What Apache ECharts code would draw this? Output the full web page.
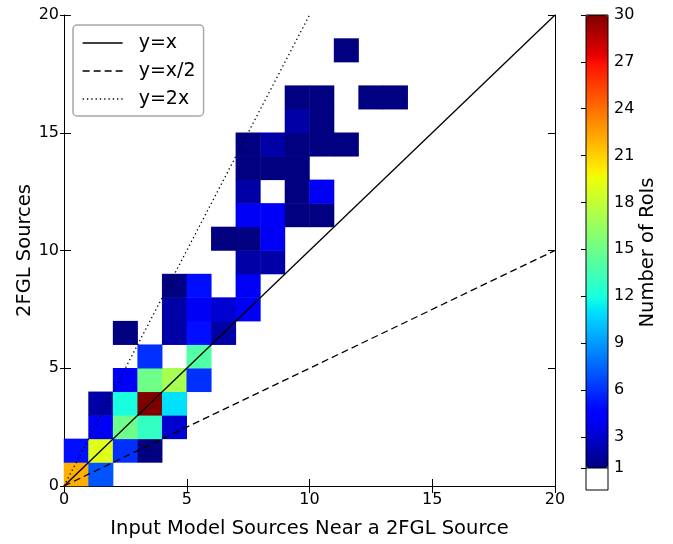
<!DOCTYPE html>
<html>
<head>
<meta charset="utf-8">
<script src="https://cdn.jsdelivr.net/npm/echarts@6/dist/echarts.min.js"></script>
<style>html,body{margin:0;padding:0;background:#fff}#c{width:673px;height:544px}</style>
</head>
<body>
<div id="c"></div>
<script>
// ---- data (bin indices: x = input model sources, y = 2FGL sources) ----
const binX   = [0,1, 0,1,2,3, 1,2,3,4, 1,2,3,4, 2,3,4,5, 3,5, 2,4,5,6, 4,5,6,7, 4,5,7, 7,8, 6,7,8, 7,8,9,10, 7,9,10, 7,8,9, 7,8,9,10,11, 9,10, 9,10,12,13, 11];
const binY   = [0,0, 1,1,1,1, 2,2,2,2, 3,3,3,3, 4,4,4,4, 5,5, 6,6,6,6, 7,7,7,7, 8,8,8, 9,9, 10,10,10, 11,11,11,11, 12,12,12, 13,13,13, 14,14,14,14,14, 15,15, 16,16,16,16, 18];
const counts = [22,7, 5,19,6,1, 4,15,13,3, 2,12,30,11, 4,15,17,6, 6,14, 1,2,5,2, 2,4,3,4, 1,5,4, 2,2, 1,1,4, 4,4,1,1, 2,1,4, 1,1,1, 1,2,1,1,1, 2,1, 1,1,1,1, 1];
const binCategories = ['0','1','2','3','4','5','6','7','8','9','10','11','12','13','14','15','16','17','18','19'];
const axisTicks = [0, 5, 10, 15, 20];
const colorbarTicks = [1, 3, 6, 9, 12, 15, 18, 21, 24, 27, 30];
const guideX = [0, 20];
const guideNames = ['y=x', 'y=x/2', 'y=2x'];
const guideSlopes = [1, 0.5, 2];

// jet colormap
function jet(t) {
  const seg = (p) => {
    for (let i = 1; i < p.length; i++) {
      if (t <= p[i][0]) {
        const f = (t - p[i-1][0]) / (p[i][0] - p[i-1][0]);
        return p[i-1][1] + f * (p[i][1] - p[i-1][1]);
      }
    }
    return p[p.length-1][1];
  };
  const r = seg([[0,0],[0.35,0],[0.66,1],[0.89,1],[1,0.5]]);
  const g = seg([[0,0],[0.125,0],[0.375,1],[0.64,1],[0.91,0],[1,0]]);
  const b = seg([[0,0.5],[0.11,1],[0.34,1],[0.65,0],[1,0]]);
  const h = (v) => Math.round(Math.max(0, Math.min(1, v)) * 255).toString(16).padStart(2, '0');
  return '#' + h(r) + h(g) + h(b);
}
const jetColors = [];
for (let i = 0; i <= 100; i++) jetColors.push(jet(i / 100));

const heatData = counts.map((v, i) => [binX[i], binY[i], v]);

const FONT = 'DejaVu Sans';
const chart = echarts.init(document.getElementById('c'), null, {renderer: 'canvas'});

const G = {left: 64, top: 15, width: 491, height: 474};
const CB = {left: 586, top: 15, width: 22, height: 475, colored: 453};
const cbMin = 1 - (CB.height - CB.colored) / (CB.colored / 29);

const lineStyles = [
  {type: 'solid', width: 1.3, color: '#000'},
  {type: [7, 4], width: 1.3, color: '#000'},
  {type: [1.3, 3], width: 1.3, color: '#000'}
];

const guideSeries = guideNames.map((n, k) => ({
  name: n,
  type: 'line',
  xAxisIndex: 1,
  yAxisIndex: 1,
  data: guideX.map(x => [x, x * guideSlopes[k]]),
  symbol: 'none',
  silent: true,
  clip: true,
  lineStyle: lineStyles[k],
  itemStyle: {color: '#000'},
  z: 5
}));

chart.setOption({
  animation: false,
  textStyle: {fontFamily: FONT, color: '#000'},
  grid: [
    {left: G.left, top: G.top, width: G.width, height: G.height, show: false},
    {left: CB.left, top: CB.top, width: CB.width, height: CB.height, show: false}
  ],
  xAxis: [
    {type: 'category', data: binCategories, gridIndex: 0, show: false, position: 'top'},
    {type: 'value', gridIndex: 0, min: axisTicks[0], max: axisTicks[axisTicks.length-1], interval: 5, position: 'bottom',
     axisLine: {show: true, lineStyle: {color: '#000', width: 1}},
     axisTick: {show: true, inside: true, length: 7, lineStyle: {color: '#000'}},
     axisLabel: {fontSize: 16, color: '#000', margin: 6, fontFamily: FONT},
     splitLine: {show: false},
     name: 'Input Model Sources Near a 2FGL Source', nameLocation: 'middle', nameGap: 33, nameMoveOverlap: false,
     nameTextStyle: {fontSize: 19.5, color: '#000', fontFamily: FONT}},
    {type: 'value', gridIndex: 0, min: 0, max: 20, interval: 5, position: 'top',
     axisLine: {show: true, lineStyle: {color: '#000', width: 1}},
     axisTick: {show: true, inside: true, length: 7, lineStyle: {color: '#000'}},
     axisLabel: {show: false}, splitLine: {show: false}},
    {type: 'value', gridIndex: 1, min: 0, max: 1, show: false}
  ],
  yAxis: [
    {type: 'category', data: binCategories, gridIndex: 0, show: false, position: 'right'},
    {type: 'value', gridIndex: 0, min: axisTicks[0], max: axisTicks[axisTicks.length-1], interval: 5, position: 'left',
     axisLine: {show: true, lineStyle: {color: '#000', width: 1}},
     axisTick: {show: true, inside: true, length: 7, lineStyle: {color: '#000'}},
     axisLabel: {fontSize: 16, color: '#000', margin: 5, fontFamily: FONT},
     splitLine: {show: false},
     name: '2FGL Sources', nameLocation: 'middle', nameGap: 29, nameMoveOverlap: false,
     nameTextStyle: {fontSize: 19.5, color: '#000', fontFamily: FONT}},
    {type: 'value', gridIndex: 0, min: 0, max: 20, interval: 5, position: 'right',
     axisLine: {show: true, lineStyle: {color: '#000', width: 1}},
     axisTick: {show: true, inside: true, length: 7, lineStyle: {color: '#000'}},
     axisLabel: {show: false}, splitLine: {show: false}},
    {type: 'value', gridIndex: 0, min: 0, max: 20, interval: 5, position: 'left',
     axisLine: {show: false},
     axisTick: {show: true, inside: false, length: 4, lineStyle: {color: '#000'}},
     axisLabel: {show: false}, splitLine: {show: false}},
    {type: 'value', gridIndex: 1, min: cbMin, max: colorbarTicks[colorbarTicks.length-1], position: 'right',
     axisLine: {show: false},
     axisTick: {show: true, inside: true, length: 5, lineStyle: {color: '#000'}, customValues: colorbarTicks},
     axisLabel: {fontSize: 16, color: '#000', margin: 6, fontFamily: FONT, customValues: colorbarTicks},
     splitLine: {show: false},
     name: 'Number of RoIs', nameLocation: 'middle', nameGap: 30, nameMoveOverlap: false,
     nameTextStyle: {fontSize: 19.5, color: '#000', fontFamily: FONT}}
  ],
  visualMap: {
    type: 'continuous',
    seriesIndex: 0,
    dimension: 2,
    min: colorbarTicks[0],
    max: colorbarTicks[colorbarTicks.length-1],
    calculable: false,
    hoverLink: false,
    orient: 'vertical',
    left: CB.left,
    top: CB.top,
    itemWidth: CB.width,
    itemHeight: CB.colored,
    padding: 0,
    text: null,
    showLabel: false,
    inRange: {color: jetColors},
    outOfRange: {color: '#fff'}
  },
  legend: {
    show: true,
    data: guideNames,
    orient: 'vertical',
    left: 73,
    top: 25,
    itemWidth: 40,
    itemHeight: 14,
    itemGap: 8,
    padding: [8, 8, 7, 9],
    backgroundColor: '#fff',
    borderColor: '#a8a8a8',
    borderWidth: 1.5,
    borderRadius: 4,
    selectedMode: false,
    itemStyle: {opacity: 0},
    lineStyle: {width: 1.3},
    textStyle: {fontSize: 19, color: '#000', fontFamily: FONT, lineHeight: 20, padding: [0, 0, 0, 11]},
    z: 10
  },
  graphic: [
    {type: 'rect', z: 100, silent: true,
     shape: {x: CB.left, y: CB.top, width: CB.width, height: CB.height},
     style: {fill: 'none', stroke: '#000', lineWidth: 1}},
    {type: 'line', z: 100, silent: true,
     shape: {x1: CB.left, y1: CB.top + CB.colored, x2: CB.left + CB.width, y2: CB.top + CB.colored},
     style: {stroke: '#000', lineWidth: 1}}
  ],
  series: [
    {type: 'heatmap', xAxisIndex: 0, yAxisIndex: 0, data: heatData, silent: true,
     emphasis: {disabled: true}, progressive: 0, z: 2}
  ].concat(guideSeries)
});
</script>
</body>
</html>
